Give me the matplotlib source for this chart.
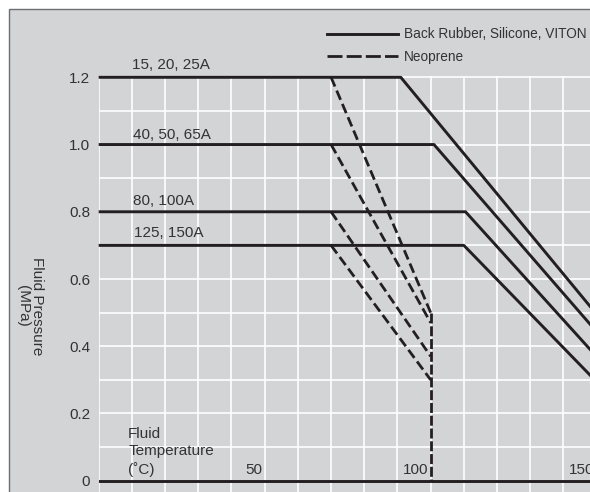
import numpy as np
import matplotlib
matplotlib.use("Agg")
import matplotlib.pyplot as plt
from matplotlib.lines import Line2D
from matplotlib.patches import Rectangle

plt.rcParams['font.family'] = ['Liberation Sans', 'DejaVu Sans']

# solid lines: Back Rubber, Silicone, VITON (temperature, pressure)
solid_t = [[0, 91, 150], [0, 101, 150], [0, 110.5, 150], [0, 110, 150]]
solid_p = [[1.2, 1.2, 0.495], [1.0, 1.0, 0.443], [0.8, 0.8, 0.369], [0.7, 0.7, 0.294]]

# dashed lines: Neoprene
dash_t = [[70, 100], [70, 100], [70, 100], [70, 100]]
dash_p = [[1.2, 0.5], [1.0, 0.47], [0.8, 0.37], [0.7, 0.3]]
cutoff_t = [100, 100]
cutoff_p = [0.5, 0.0]

size_labels = ['15, 20, 25A', '40, 50, 65A', '80, 100A', '125, 150A']
size_label_pos = [(10.1, 1.226), (10.4, 1.015), (10.3, 0.819), (10.5, 0.724)]

x_tick_vals = [50, 100, 150]
y_tick_vals = [0, 0.2, 0.4, 0.6, 0.8, 1.0, 1.2]
y_tick_labels = ['0', '0.2', '0.4', '0.6', '0.8', '1.0', '1.2']

BG = '#d3d4d6'
INK = '#231f20'
TXT = '#333333'

W, H = 590, 492
fig = plt.figure(figsize=(W / 100, H / 100), dpi=100)
fig.patch.set_facecolor('white')
# gray panel with a thin border on top and left
fig.patches.append(Rectangle((8.5 / W, -0.01), 1.02, 1 - 8.5 / H + 0.01,
                             transform=fig.transFigure, facecolor=BG,
                             edgecolor='#6d6e71', linewidth=1.0, zorder=-10))

ytop = 1.203
ybot = -0.0336
left = 98.7 / W
bottom = 0
height = (480.7 - 77.3) / 1.2 * (ytop - ybot) / H
ax = fig.add_axes([left, bottom, 1 - left, height])
ax.set_facecolor(BG)
for s in ax.spines.values():
    s.set_visible(False)

ax.set_xticks(np.arange(0, 141, 10))
ax.set_yticks(y_tick_vals)
ax.set_yticklabels(y_tick_labels)
ax.set_yticks(np.arange(0.1, 1.2, 0.2), minor=True)
ax.set_xlim(0, 148)
ax.set_ylim(ybot, ytop)
ax.tick_params(axis='x', length=0, labelbottom=False)
ax.tick_params(axis='y', which='both', length=0, pad=6, labelsize=11, labelcolor=TXT)
ax.grid(True, which='both', color='white', linewidth=1.2)
ax.set_axisbelow(True)

for t, p in zip(solid_t, solid_p):
    ax.plot(t, p, color=INK, lw=2.1, solid_capstyle='butt', clip_on=False, zorder=3)
for t, p in zip(dash_t, dash_p):
    ax.plot(t, p, color=INK, lw=2.0, linestyle=(0, (3.6, 1.6)), clip_on=False, zorder=3)
ax.plot(cutoff_t, cutoff_p, color=INK, lw=2.0, linestyle=(0, (3.6, 1.0)), zorder=3)
ax.axhline(0, color=INK, lw=2.1, zorder=3)

for lab, (x, y) in zip(size_labels, size_label_pos):
    ax.text(x, y, lab, fontsize=11, color=TXT, ha='left', va='baseline')

for v in x_tick_vals:
    ax.text(v - 0.8, 0.019, str(v), fontsize=11, color=TXT, ha='right', va='baseline')

# x axis title sits in the lower left corner of the plot
ax.text(8.9, 0.021, 'Fluid\nTemperature\n(\u02daC)', fontsize=11, color=TXT,
        ha='left', va='baseline', linespacing=1.3)

fig.text(30 / W, 1 - 306 / H, 'Fluid Pressure\n(MPa)', rotation=270, fontsize=11,
         color=TXT, ha='center', va='center', multialignment='center', linespacing=1.0)

handles = [Line2D([], [], color=INK, lw=2.1),
           Line2D([], [], color=INK, lw=2.0, linestyle=(0, (5.4, 1.5)))]
fig.legend(handles, ['Back Rubber, Silicone, VITON', 'Neoprene'], loc='upper left',
           bbox_to_anchor=(327.3 / W, 1 - 27.5 / H), frameon=False, borderpad=0,
           borderaxespad=0, fontsize=9.8, handlelength=5.2, handletextpad=0.45,
           labelspacing=0.62, labelcolor=TXT)

fig.savefig('out.png', dpi=100, facecolor=fig.get_facecolor())
